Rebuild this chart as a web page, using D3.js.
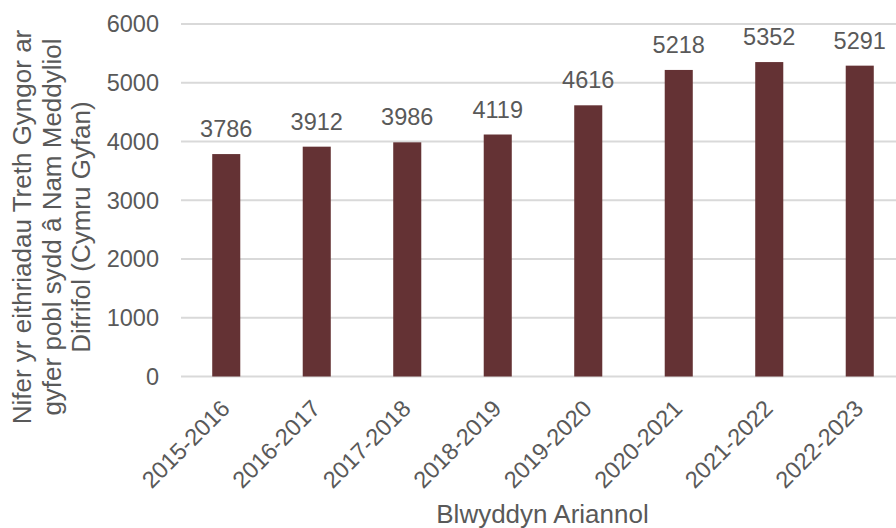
<!DOCTYPE html>
<html><head><meta charset="utf-8">
<script src="https://cdn.jsdelivr.net/npm/d3@7"></script>
<style>body{margin:0;background:#fff}svg{display:block;font-family:"Liberation Sans",Arial,sans-serif}</style>
</head><body><svg id="c" width="896" height="528"></svg>
<script>
const categories = ["2015-2016","2016-2017","2017-2018","2018-2019","2019-2020","2020-2021","2021-2022","2022-2023"];
const values = [3786,3912,3986,4119,4616,5218,5352,5291];
const yTicks = [0,1000,2000,3000,4000,5000,6000];
const yTitleLines = ["Nifer yr eithriadau Treth Gyngor ar","gyfer pobl sydd â Nam Meddyliol","Difrifol (Cymru Gyfan)"];
const xTitle = "Blwyddyn Ariannol";

const svg = d3.select("#c");
const W = 896;
const x = d3.scaleBand().domain(categories).range([181, 905]).paddingInner(0.69).paddingOuter(0.345);
const y = d3.scaleLinear().domain([0,6000]).range([376.5, 24]);
const grey = "#595959";

// gridlines
svg.append("g").selectAll("line").data(yTicks).join("line")
  .attr("x1",181).attr("x2",W).attr("y1",d=>y(d)).attr("y2",d=>y(d))
  .attr("stroke","#d9d9d9").attr("stroke-width",2);

// y tick labels
svg.append("g").selectAll("text").data(yTicks).join("text")
  .attr("x",159).attr("y",d=>y(d)).attr("dy","0.36em")
  .attr("text-anchor","end").attr("fill",grey).attr("font-size","23.5px")
  .text(d=>d);

// bars
svg.append("g").selectAll("rect").data(values).join("rect")
  .attr("x",(d,i)=>x(categories[i])).attr("width",x.bandwidth())
  .attr("y",d=>y(d)).attr("height",d=>y(0)-y(d))
  .attr("fill","#643234");

// value labels
svg.append("g").selectAll("text").data(values).join("text")
  .attr("x",(d,i)=>x(categories[i])+x.bandwidth()/2).attr("y",d=>y(d)-17)
  .attr("text-anchor","middle").attr("fill",grey).attr("font-size","23.5px")
  .text(d=>d);

// x tick labels
svg.append("g").selectAll("text").data(categories).join("text")
  .attr("transform",d=>`translate(${x(d)+x.bandwidth()/2-7},398) rotate(-45)`)
  .attr("dy","0.72em")
  .attr("text-anchor","end").attr("fill",grey).attr("font-size","23.5px")
  .text(d=>d);

// x title
svg.append("text").attr("x",542.5).attr("y",523).attr("text-anchor","middle")
  .attr("fill",grey).attr("font-size","26px").text(xTitle);

// y title
const yt = svg.append("text").attr("transform","translate(0,227) rotate(-90)")
  .attr("text-anchor","middle").attr("fill",grey).attr("font-size","26px");
yt.selectAll("tspan").data(yTitleLines).join("tspan")
  .attr("x",0).attr("y",(d,i)=>31+i*29.5).text(d=>d);
</script></body></html>
